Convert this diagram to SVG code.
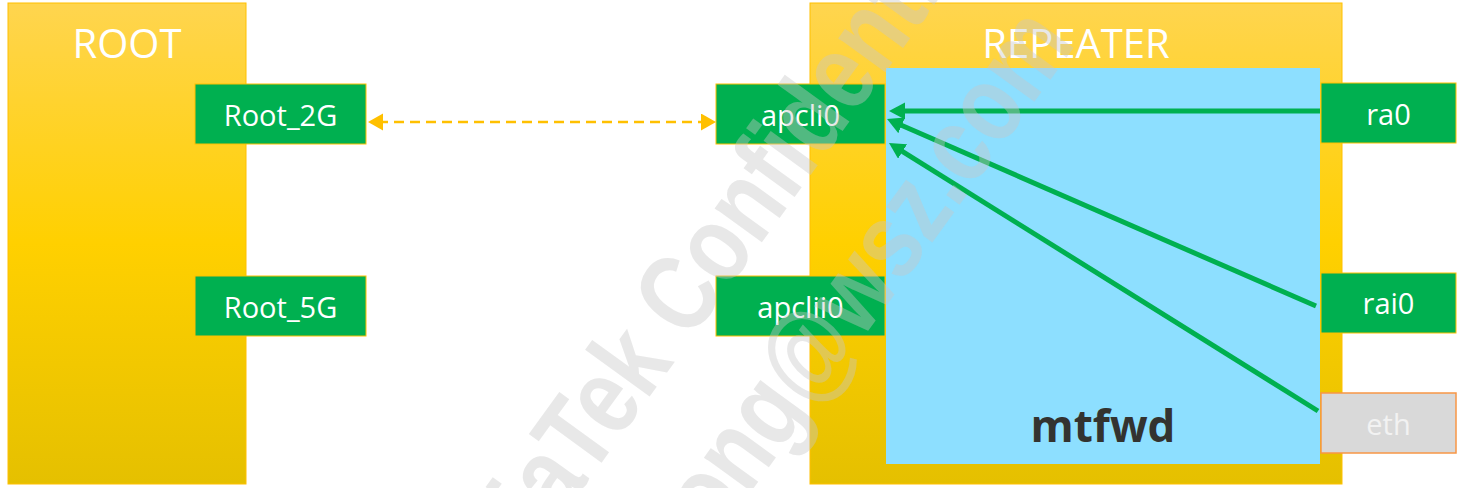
<svg xmlns="http://www.w3.org/2000/svg" width="1460" height="488" viewBox="0 0 1460 488">
  <defs>
    <linearGradient id="gold" x1="0" y1="0" x2="0" y2="1">
      <stop offset="0" stop-color="#FFD54F"/>
      <stop offset="0.5" stop-color="#FFD000"/>
      <stop offset="1" stop-color="#E5C000"/>
    </linearGradient>
    <marker id="head-green" markerUnits="userSpaceOnUse" markerWidth="16" markerHeight="18" refX="6" refY="8.5" orient="auto">
      <path d="M0,0 L16,8.5 L0,17 Z" fill="#00B050"/>
    </marker>
    <marker id="head-gold" markerUnits="userSpaceOnUse" markerWidth="16" markerHeight="18" refX="5" refY="8.5" orient="auto-start-reverse">
      <path d="M0,0 L15,8.5 L0,17 Z" fill="#FFC000"/>
    </marker>
    <style>
      .device { fill: url(#gold); stroke: #FFC000; stroke-width: 1; }
      .title { font-family: "Open Sans", "Liberation Sans", sans-serif; font-size: 40px; fill: #FFFFFF; text-anchor: middle; }
      .port { fill: #00B050; stroke: #FFC000; stroke-width: 1; }
      .port-off { fill: #D9D9D9; stroke: #F79646; stroke-width: 1.5; }
      .label { font-family: "Open Sans", "Liberation Sans", sans-serif; font-size: 29px; fill: #FFFFFF; text-anchor: middle; }
      .label-off { fill: #F2F2F2; }
      .engine { fill: #8DDFFF; }
      .engine-text { font-family: "Open Sans", "Liberation Sans", sans-serif; font-size: 44px; font-weight: bold; fill: #333330; text-anchor: middle; }
      .fwd { stroke: #00B050; stroke-width: 5; fill: none; marker-end: url(#head-green); }
      .link { stroke: #FFC000; stroke-width: 2.5; stroke-dasharray: 10 6; fill: none; marker-start: url(#head-gold); marker-end: url(#head-gold); }
      .mark { font-family: "Liberation Sans", "DejaVu Sans", sans-serif; font-weight: bold; font-size: 110px; fill: #C8C8C8; fill-opacity: 0.41; }
    </style>
  </defs>

  <!-- root AP -->
  <g id="root">
    <rect class="device" x="8" y="3" width="238" height="481"/>
    <text class="title" x="127" y="58">ROOT</text>
  </g>
  <g id="root-2g">
    <rect class="port" x="195" y="84" width="171" height="60"/>
    <text class="label" x="280.5" y="126">Root_2G</text>
  </g>
  <g id="root-5g">
    <rect class="port" x="195" y="276" width="171" height="60"/>
    <text class="label" x="280.5" y="318">Root_5G</text>
  </g>

  <!-- repeater -->
  <g id="repeater">
    <rect class="device" x="810" y="3" width="532" height="481"/>
    <text class="title" x="1076" y="58">REPEATER</text>
  </g>
  <g id="mtfwd">
    <rect class="engine" x="886" y="68" width="434" height="396"/>
    <text class="engine-text" x="1103" y="442">mtfwd</text>
  </g>
  <g id="apcli0">
    <rect class="port" x="716" y="84" width="169" height="60"/>
    <text class="label" x="800.5" y="126">apcli0</text>
  </g>
  <g id="apclii0">
    <rect class="port" x="716" y="276" width="169" height="60"/>
    <text class="label" x="800.5" y="318">apclii0</text>
  </g>
  <g id="ra0">
    <rect class="port" x="1321" y="83" width="135" height="60"/>
    <text class="label" x="1388.5" y="125">ra0</text>
  </g>
  <g id="rai0">
    <rect class="port" x="1321" y="273" width="135" height="60"/>
    <text class="label" x="1388.5" y="314">rai0</text>
  </g>
  <g id="eth">
    <rect class="port-off" x="1321" y="393" width="135" height="60"/>
    <text class="label label-off" x="1388.5" y="435">eth</text>
  </g>

  <!-- links -->
  <g id="connectors">
    <path class="link" d="M378,122 H706"/>
    <path class="fwd" d="M1320,111 H899"/>
    <path class="fwd" d="M1316,306 L896.2,123"/>
    <path class="fwd" d="M1318,411 L897.5,148.3"/>
  </g>

  <!-- watermark -->
  <g id="watermark">
    <text class="mark" transform="translate(443,681) rotate(-54) scale(0.8,1)">MediaTek Confidential</text>
    <text class="mark" transform="translate(716,540) rotate(-54) scale(0.8,1)">ong@wsz.com</text>
  </g>
</svg>
